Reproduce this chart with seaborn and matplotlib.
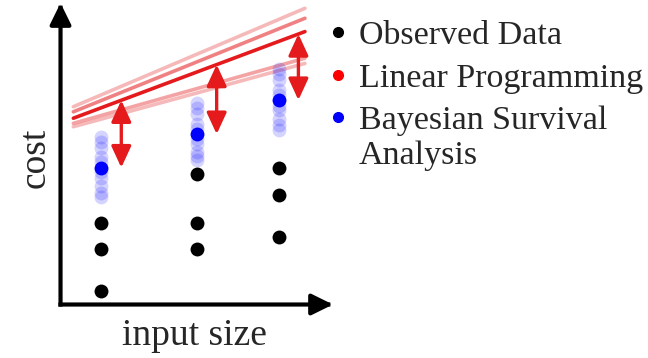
import numpy as np
import pandas as pd
import matplotlib
matplotlib.use("Agg")
import matplotlib.pyplot as plt
import seaborn as sns
from matplotlib.lines import Line2D
from matplotlib.legend_handler import HandlerLine2D

# Input sizes at which runs were observed
input_sizes = [1.5, 5.0, 8.0]

# Observed costs (three runs per input size)
observed_cost = [
    [2.71, 1.83, 0.46],
    [4.33, 2.71, 1.83],
    [4.52, 3.63, 2.25],
]

# Bayesian survival analysis: posterior mean and posterior samples per input size
bayes_mean = [4.54, 5.65, 6.78]
bayes_samples = [
    [5.55, 5.40, 5.20, 4.88, 4.72, 4.38, 4.20, 3.92, 3.70, 3.55],
    [6.68, 6.52, 6.33, 6.00, 5.83, 5.48, 5.32, 5.05, 4.92, 4.80],
    [7.82, 7.64, 7.45, 7.12, 6.95, 6.60, 6.44, 6.15, 5.95, 5.80],
]

# Linear programming fits: candidate bounds, the chosen one is drawn solid
lp_intercepts = [6.38, 6.22, 6.02, 5.89, 5.78]
lp_slopes = [0.384, 0.365, 0.338, 0.254, 0.247]
lp_alphas = [0.3, 0.55, 1.0, 0.4, 0.3]
lp_best = 2
lp_x_range = [0.47, 8.97]

RED = "#e41a1c"

sns.set_theme(style="white")
plt.rcParams["font.family"] = ["Liberation Serif", "DejaVu Serif"]

fig = plt.figure(figsize=(6.48, 3.58), dpi=100)
ax = fig.add_axes([0.0934, 0.1494, 0.4205, 0.8422])
ax.set_xlim(0, 10)
ax.set_ylim(0, 10)

# Linear programming bounds
for i, (b, m, a) in enumerate(zip(lp_intercepts, lp_slopes, lp_alphas)):
    xs = np.array(lp_x_range)
    df_line = pd.DataFrame({"x": xs, "y": b + m * xs})
    sns.lineplot(data=df_line, x="x", y="y", ax=ax, color=RED, alpha=a,
                 linewidth=2.6, zorder=3 if i == lp_best else 2)

# Posterior samples (translucent) and posterior means (solid)
for x, samples in zip(input_sizes, bayes_samples):
    df_s = pd.DataFrame({"x": [x] * len(samples), "y": samples})
    sns.scatterplot(data=df_s, x="x", y="y", ax=ax, color="blue", alpha=0.17,
                    s=100, linewidth=0, zorder=4)
df_mean = pd.DataFrame({"x": input_sizes, "y": bayes_mean})
sns.scatterplot(data=df_mean, x="x", y="y", ax=ax, color="blue", s=100,
                linewidth=0, zorder=5)

# Observed data
obs = pd.DataFrame({
    "x": np.repeat(input_sizes, [len(c) for c in observed_cost]),
    "y": np.concatenate(observed_cost),
})
sns.scatterplot(data=obs, x="x", y="y", ax=ax, color="black", s=100,
                linewidth=0, zorder=6)

# Gap between the chosen bound and the posterior mean
arrow_dx = 0.73
for x, mu in zip(input_sizes, bayes_mean):
    xa = x + arrow_dx
    top = lp_intercepts[lp_best] + lp_slopes[lp_best] * xa
    ax.annotate("", xy=(xa, top), xytext=(xa, mu),
                arrowprops=dict(arrowstyle="<|-|>,head_length=0.65,head_width=0.3",
                                color=RED, lw=2.4, mutation_scale=20,
                                shrinkA=0, shrinkB=0), zorder=7)

# Axes drawn as arrows
for end in [(0, 1), (1, 0)]:
    ax.annotate("", xy=end, xytext=(0, 0), xycoords="axes fraction",
                arrowprops=dict(arrowstyle="-|>,head_length=0.65,head_width=0.32",
                                color="black", lw=3, mutation_scale=20,
                                shrinkA=0, shrinkB=0, capstyle="projecting"))
for s in ax.spines.values():
    s.set_visible(False)
ax.set_xticks([])
ax.set_yticks([])

ax.set_xlabel("input size", fontsize=27, va="top")
ax.xaxis.set_label_coords(0.49, -0.045)
ax.set_ylabel("cost", fontsize=27, va="center")
ax.yaxis.set_label_coords(-0.094, 0.486)


class FirstLineHandler(HandlerLine2D):
    """Places the marker level with the first line of a wrapped label."""

    def __init__(self, shift=0.0, **kw):
        super().__init__(**kw)
        self.shift = shift

    def create_artists(self, legend, orig_handle, xdescent, ydescent, width,
                       height, fontsize, trans):
        arts = super().create_artists(legend, orig_handle, xdescent, ydescent,
                                      width, height, fontsize, trans)
        for a in arts:
            a.set_ydata(np.asarray(a.get_ydata(), dtype=float) + self.shift * fontsize)
        return arts


labels = ["Observed Data", "Linear Programming", "Bayesian Survival\nAnalysis"]
colors = ["black", "red", "blue"]
handles = [Line2D([], [], marker="o", ls="", color=c, markersize=7) for c in colors]
fig.legend(handles, labels, loc="upper left", bbox_to_anchor=(0.509, 0.943),
           frameon=False, fontsize=24.5, handlelength=0.5, handletextpad=0.35,
           labelspacing=0.34, borderpad=0, borderaxespad=0,
           handler_map={handles[2]: FirstLineHandler(shift=0.6)})

fig.savefig("out.png", dpi=100)
